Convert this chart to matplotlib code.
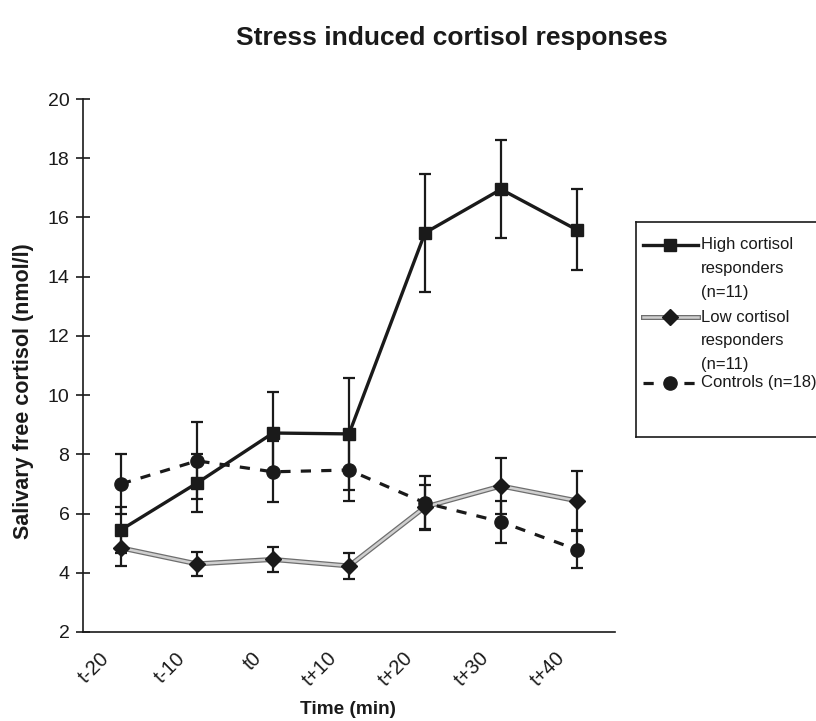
import matplotlib
matplotlib.use("Agg")
import matplotlib.pyplot as plt
import matplotlib.patheffects as pe
from matplotlib.transforms import ScaledTranslation
import numpy as np

plt.rcParams['font.family'] = ['Liberation Sans', 'DejaVu Sans']

# ---------------- data ----------------
time_labels = ["t-20", "t-10", "t0", "t+10", "t+20", "t+30", "t+40"]
high_mean = [5.45, 7.03, 8.72, 8.69, 15.48, 16.95, 15.58]
high_err = [0.77, 0.98, 1.38, 1.90, 2.00, 1.65, 1.37]
low_mean = [4.84, 4.30, 4.45, 4.23, 6.22, 6.93, 6.43]
low_err = [0.60, 0.40, 0.42, 0.45, 0.75, 0.95, 1.00]
ctrl_mean = [7.00, 7.78, 7.41, 7.47, 6.36, 5.72, 4.78]
ctrl_err = [1.00, 1.30, 1.03, 1.04, 0.90, 0.72, 0.63]
series_labels = ["High cortisol\nresponders\n(n=11)",
                 "Low cortisol\nresponders\n(n=11)",
                 "Controls (n=18)"]
yticks = [2, 4, 6, 8, 10, 12, 14, 16, 18, 20]

# ---------------- figure ----------------
W, H = 816, 721
fig = plt.figure(figsize=(W / 100, H / 100), dpi=100)
INK = '#1a1a1a'

def fx(px):
    return px / W

def fy(py):
    return 1 - py / H

ax_l, ax_r, ax_t, ax_b = 83, 615, 99, 632
ax = fig.add_axes([fx(ax_l), fy(ax_b), fx(ax_r - ax_l), (ax_b - ax_t) / H])

x = np.arange(len(time_labels))

low_pe = [pe.Stroke(linewidth=3.6, foreground='#6e6e6e'),
          pe.Stroke(linewidth=1.8, foreground='#cfcfcf')]

ekw = dict(ecolor=INK, elinewidth=1.6, capsize=4.5, capthick=1.6)

# Low responders
ax.errorbar(x, low_mean, yerr=low_err, fmt='none', zorder=2, **ekw)
ax.plot(x, low_mean, color='#cfcfcf', lw=1.8, zorder=3, path_effects=low_pe)
ax.plot(x, low_mean, ls='none', marker='D', ms=8, color=INK, zorder=5)

# Controls
ax.errorbar(x, ctrl_mean, yerr=ctrl_err, fmt='none', zorder=2, **ekw)
ax.plot(x, ctrl_mean, color=INK, lw=2.3, ls=(0, (3.2, 3.2)), zorder=3,
        marker='o', ms=9.5)

# High responders
ax.errorbar(x, high_mean, yerr=high_err, fmt='none', zorder=2, **ekw)
ax.plot(x, high_mean, color=INK, lw=2.4, zorder=4, marker='s', ms=8)

ax.set_xlim(-0.5, 6.5)
ax.set_ylim(2, 20)
ax.set_yticks(yticks)
ax.set_yticklabels([str(v) for v in yticks], fontsize=14, color=INK)
ax.tick_params(axis='y', direction='inout', length=9.5, width=1.2,
               color=INK, pad=5)

ax.set_xticks(x)
ax.set_xticklabels(time_labels, fontsize=14.5, rotation=45, ha='right',
                   va='top', color=INK)
ax.tick_params(axis='x', length=0, pad=12)
shift = ScaledTranslation(-8 / 100, 0, fig.dpi_scale_trans)
for lab in ax.get_xticklabels():
    lab.set_transform(lab.get_transform() + shift)

for s in ['top', 'right']:
    ax.spines[s].set_visible(False)
for s in ['left', 'bottom']:
    ax.spines[s].set_linewidth(1.2)
    ax.spines[s].set_color(INK)

ax.set_ylabel("Salivary free cortisol (nmol/l)", fontsize=15.5,
              fontweight='bold', color=INK, va='center')
ax.yaxis.set_label_coords((24 - ax_l) / (ax_r - ax_l), (ax_b - 391) / (ax_b - ax_t))
ax.set_xlabel("Time (min)", fontsize=13.7, fontweight='bold', color=INK)
ax.xaxis.set_label_coords((348 - ax_l) / (ax_r - ax_l), (ax_b - 701) / (ax_b - ax_t))

fig.text(fx(452), fy(38), "Stress induced cortisol responses", fontsize=19,
         fontweight='bold', ha='center', va='center', color=INK)

# ---------------- legend ----------------
box_l, box_t, box_b = 636, 222, 437
lax = fig.add_axes([fx(box_l), fy(box_b), fx(W + 20 - box_l), (box_b - box_t) / H])
lax.set_xlim(box_l, W + 20)
lax.set_ylim(box_b, box_t)
lax.set_xticks([])
lax.set_yticks([])
for s in lax.spines.values():
    s.set_linewidth(1.2)
    s.set_color(INK)
lax.patch.set_alpha(0)

entry_y = [245, 317, 383]
hx0, hx1, hmid, tx = 643, 698, 670, 701
line_pitch = 23.5
line_styles = [
    dict(color=INK, lw=2.4),
    dict(color='#cfcfcf', lw=1.8, path_effects=low_pe),
    dict(color=INK, lw=2.3, ls=(0, (3.2, 3.2))),
]
marker_styles = [
    dict(marker='s', ms=8),
    dict(marker='D', ms=8),
    dict(marker='o', ms=9.5),
]
for i, (yy, lab) in enumerate(zip(entry_y, series_labels)):
    lax.plot([hx0, hx1], [yy, yy], **line_styles[i])
    lax.plot([hmid], [yy], ls='none', color=INK, **marker_styles[i])
    for j, part in enumerate(lab.split("\n")):
        lax.text(tx, yy + j * line_pitch, part, fontsize=12, ha='left',
                 va='center', color=INK)

fig.savefig("out.png", dpi=100)
